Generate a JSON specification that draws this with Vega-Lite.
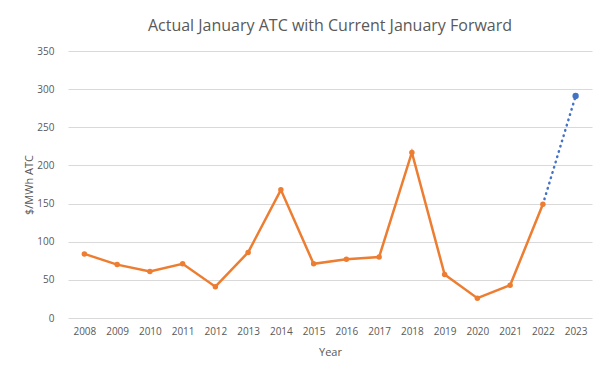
{
  "$schema": "https://vega.github.io/schema/vega-lite/v6.json",
  "autosize": {"type": "none"},
  "width": 524,
  "height": 267,
  "padding": {"left": 68, "top": 51, "right": 18, "bottom": 63},
  "background": "white",
  "config": {
    "font": "Open Sans",
    "view": {"stroke": null},
    "axis": {"labelColor": "#595959", "titleColor": "#595959", "labelFontSize": 10, "titleFontSize": 11, "titleFontWeight": "normal", "domain": false, "ticks": false, "gridColor": "#d9d9d9", "gridWidth": 1}
  },
  "title": {"text": "Actual January ATC with Current January Forward", "fontSize": 16, "fontWeight": "normal", "color": "#595959", "anchor": "middle", "offset": 12, "font": "Open Sans"},
  "data": {"values": [
    {"year": "2008", "value": 84, "series": "Actual"},
    {"year": "2009", "value": 70, "series": "Actual"},
    {"year": "2010", "value": 61, "series": "Actual"},
    {"year": "2011", "value": 71, "series": "Actual"},
    {"year": "2012", "value": 41, "series": "Actual"},
    {"year": "2013", "value": 86, "series": "Actual"},
    {"year": "2014", "value": 168, "series": "Actual"},
    {"year": "2015", "value": 71, "series": "Actual"},
    {"year": "2016", "value": 77, "series": "Actual"},
    {"year": "2017", "value": 80, "series": "Actual"},
    {"year": "2018", "value": 217, "series": "Actual"},
    {"year": "2019", "value": 57, "series": "Actual"},
    {"year": "2020", "value": 26, "series": "Actual"},
    {"year": "2021", "value": 43, "series": "Actual"},
    {"year": "2022", "value": 149, "series": "Actual"},
    {"year": "2022", "value": 149, "series": "Forward"},
    {"year": "2023", "value": 291, "series": "Forward"}
  ]},
  "encoding": {
    "x": {"field": "year", "type": "ordinal", "scale": {"type": "point", "padding": 0.5}, "axis": {"title": "Year", "labelAngle": 0, "labelPadding": 8, "titlePadding": 10, "grid": false}},
    "y": {"field": "value", "type": "quantitative", "scale": {"domain": [0, 350]}, "axis": {"title": "$/MWh ATC", "values": [0, 50, 100, 150, 200, 250, 300, 350], "labelPadding": 14, "titlePadding": 2}}
  },
  "layer": [
    {
      "transform": [{"filter": "datum.series === 'Forward'"}],
      "mark": {"type": "line", "color": "#4472C4", "strokeWidth": 2.5, "strokeDash": [0.5, 5], "strokeCap": "round"}
    },
    {
      "transform": [{"filter": "datum.series === 'Forward' && datum.year === '2023'"}],
      "mark": {"type": "point", "filled": true, "color": "#4472C4", "size": 40, "opacity": 1}
    },
    {
      "transform": [{"filter": "datum.series === 'Actual'"}],
      "mark": {"type": "line", "color": "#ED7D31", "strokeWidth": 2.5, "point": {"filled": true, "color": "#ED7D31", "size": 30, "opacity": 1}}
    }
  ]
}
